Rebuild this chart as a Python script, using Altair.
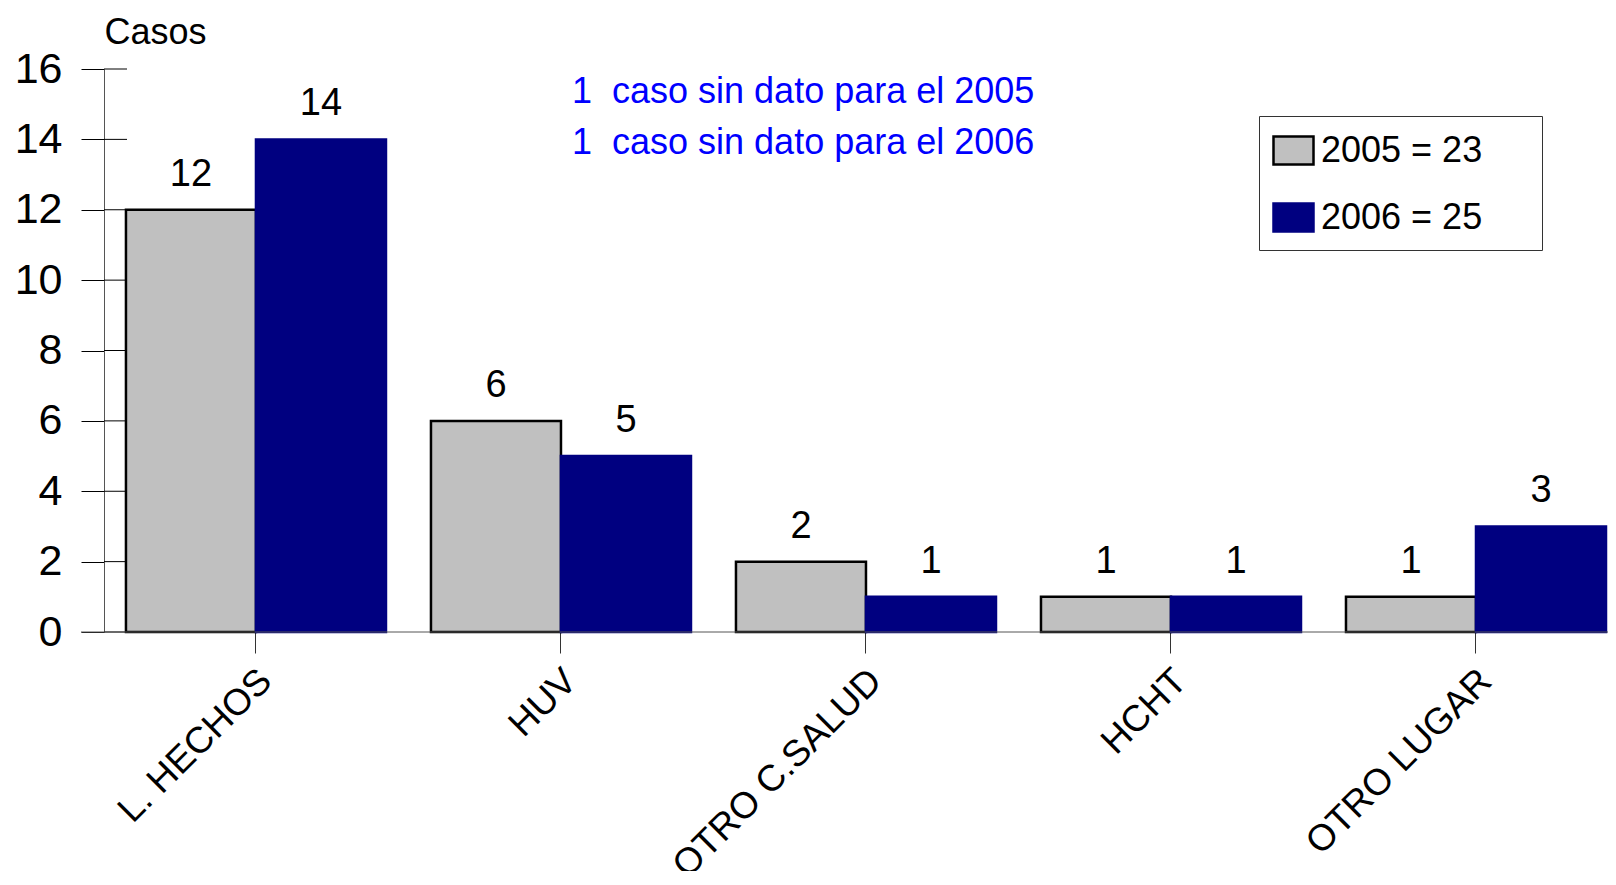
import altair as alt
import pandas as pd

categories = ["L. HECHOS", "HUV", "OTRO C.SALUD", "HCHT", "OTRO LUGAR"]
values_2005 = [12, 6, 2, 1, 1]
values_2006 = [14, 5, 1, 1, 3]
series = ["2005 = 23", "2006 = 25"]
y_ticks = [0, 2, 4, 6, 8, 10, 12, 14, 16]
notes = ["1\u00a0 caso sin dato para el 2005", "1\u00a0 caso sin dato para el 2006"]

rows = []
for c, a, b in zip(categories, values_2005, values_2006):
    rows.append({"lugar": c, "serie": series[0], "casos": a})
    rows.append({"lugar": c, "serie": series[1], "casos": b})
df = pd.DataFrame(rows)
ticks_df = pd.DataFrame({"casos": y_ticks})
zero_df = pd.DataFrame({"casos": [0]})

FONT = "'Liberation Sans', Arial, sans-serif"
W, H = 1502, 563

ysc = alt.Scale(domain=[0, 16], nice=False)
yaxis = alt.Axis(values=y_ticks, tickSize=23, tickColor="black", domainColor="#555",
                 labelFont=FONT, labelFontSize=43, labelColor="black", labelPadding=19,
                 grid=False, title="Casos", titleAngle=0, titleAlign="center",
                 titleBaseline="middle", titleX=51, titleY=-37, titleFont=FONT,
                 titleFontSize=36, titleFontWeight="normal", titleColor="black")

xenc = alt.X("lugar:N", sort=categories, title=None,
             scale=alt.Scale(paddingInner=0.1475, paddingOuter=0.036, align=1),
             axis=alt.Axis(labelAngle=-45, labelFont=FONT, labelFontSize=37,
                           labelColor="black", tickSize=21, tickColor="#333",
                           domain=False, labelPadding=22, labelOffset=10,
                           labelAlign="right", labelBaseline="middle", labelLimit=0))
xoff = alt.XOffset("serie:N", sort=series)

leg = alt.Legend(title=None, orient="none", legendX=1155, legendY=47,
                 strokeColor="#333", fillColor="white", padding=13,
                 symbolType="M-1,-0.7H1V0.7H-1Z", symbolSize=1600,
                 symbolStrokeWidth=2.5, labelFont=FONT, labelFontSize=36,
                 labelColor="black", rowPadding=26, labelOffset=6, labelLimit=0,
                 labelExpr="datum.label + '\u00a0\u00a0\u2800'")

bars = alt.Chart(df).mark_bar(strokeWidth=2.5).encode(
    x=xenc, xOffset=xoff,
    y=alt.Y("casos:Q", scale=ysc, axis=yaxis),
    color=alt.Color("serie:N", sort=series,
                    scale=alt.Scale(domain=series, range=["#C0C0C0", "#000080"]), legend=leg),
    stroke=alt.Stroke("serie:N", sort=series,
                      scale=alt.Scale(domain=series, range=["#000000", "#000080"]), legend=leg),
)

labels = alt.Chart(df).mark_text(font=FONT, fontSize=38, baseline="alphabetic",
                                 dy=-24, color="black").encode(
    x=xenc, xOffset=xoff, y=alt.Y("casos:Q", scale=ysc), text="casos:Q")

inner_ticks = alt.Chart(ticks_df).mark_rule(color="black", strokeWidth=1).encode(
    y=alt.Y("casos:Q", scale=ysc), x=alt.value(0), x2=alt.value(23))

zero_line = alt.Chart(zero_df).mark_rule(color="#555", strokeWidth=1).encode(
    y=alt.Y("casos:Q", scale=ysc), x=alt.value(-23), x2=alt.value(W + 10))

note_layers = []
for i, t in enumerate(notes):
    note_layers.append(
        alt.Chart(pd.DataFrame({"t": [t]})).mark_text(
            font=FONT, fontSize=36, color="#0000FF", align="left",
            baseline="alphabetic").encode(
            x=alt.value(468), y=alt.value(34 + 51 * i), text="t:N"))

chart = alt.layer(bars, labels, inner_ticks, zero_line, *note_layers).properties(
    width=W, height=H,
    autosize=alt.AutoSizeParams(type="none"),
    padding={"left": 96, "top": 61, "right": 2, "bottom": 239},
    background="white",
).configure_view(stroke=None)

chart.save("out.html", embed_options={"renderer": "svg", "actions": False})
